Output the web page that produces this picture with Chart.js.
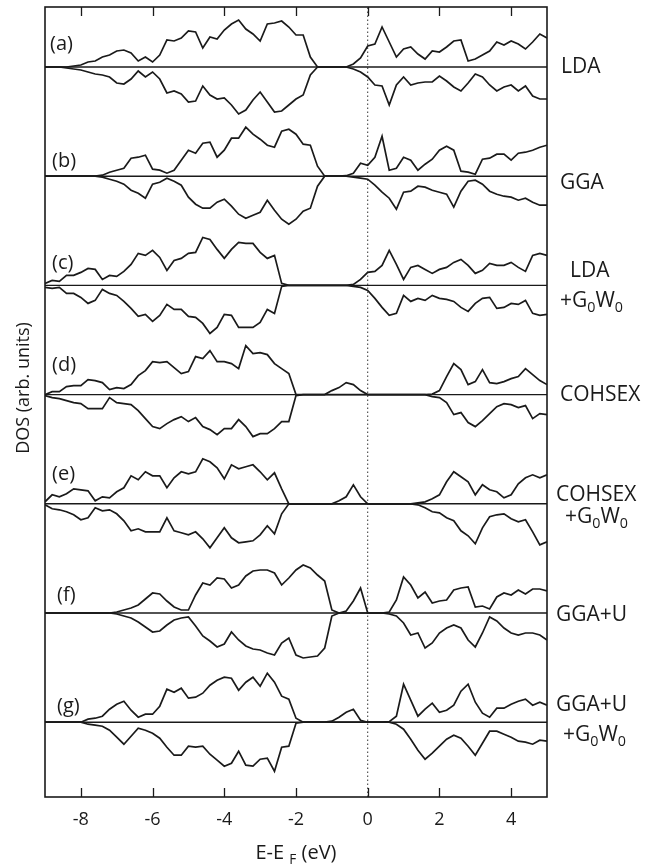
<!DOCTYPE html>
<html>
<head>
<meta charset="utf-8">
<script src="https://cdn.jsdelivr.net/npm/chart.js@4.4.0/dist/chart.umd.min.js"></script>
<style>
  html, body { margin: 0; padding: 0; background: #fff; }
  canvas { display: block; }
</style>
</head>
<body>
<canvas id="dosChart" width="647" height="867"></canvas>
<script>
// energy grid (eV, relative to E_F)
const energy = [
  -9, -8.8, -8.6, -8.4, -8.2, -8, -7.8, -7.6, -7.4, -7.2,
  -7, -6.8, -6.6, -6.4, -6.2, -6, -5.8, -5.6, -5.4, -5.2,
  -5, -4.8, -4.6, -4.4, -4.2, -4, -3.8, -3.6, -3.4, -3.2,
  -3, -2.8, -2.6, -2.4, -2.2, -2, -1.8, -1.6, -1.4, -1.2,
  -1, -0.8, -0.6, -0.4, -0.2, 0, 0.2, 0.4, 0.6, 0.8,
  1, 1.2, 1.4, 1.6, 1.8, 2, 2.2, 2.4, 2.6, 2.8,
  3, 3.2, 3.4, 3.6, 3.8, 4, 4.2, 4.4, 4.6, 4.8,
  5
];
const xTicks = [-8, -6, -4, -2, 0, 2, 4];

const panelTags = ['(a)', '(b)', '(c)', '(d)', '(e)', '(f)', '(g)'];
const methodLabels = [
  ['LDA'],
  ['GGA'],
  ['LDA', '+G_0W_0'],
  ['COHSEX'],
  ['COHSEX', '+G_0W_0'],
  ['GGA+U'],
  ['GGA+U', '+G_0W_0']
];

// DOS, spin up (drawn above the panel baseline) and spin down (below)
const ldaUp = [
  0, 0, 0, 0, 0.1, 0.2, 0.5, 0.6, 1.0, 1.2,
  1.6, 1.7, 1.4, 0.6, 1.0, 0.5, 1.2, 2.7, 2.6, 2.9,
  3.6, 3.5, 1.9, 3.0, 2.8, 3.7, 4.3, 4.7, 3.8, 3.3,
  2.6, 4.3, 4.4, 4.6, 4.0, 3.2, 3.2, 1.0, 0, 0,
  0, 0, 0, 0.3, 0.9, 2.1, 2.3, 4.0, 2.5, 1.0,
  1.8, 2.0, 1.3, 0.8, 1.6, 1.5, 2.0, 2.6, 2.7, 0.6,
  0.8, 1.2, 1.6, 2.5, 2.2, 2.6, 2.3, 1.8, 2.5, 3.3,
  2.9
];
const ldaDown = [
  0, 0, 0, 0.1, 0.2, 0.3, 0.5, 0.7, 0.8, 1.0,
  1.6, 1.7, 1.2, 0.4, 1.0, 0.5, 1.2, 2.6, 2.4, 2.7,
  3.5, 3.4, 1.9, 2.8, 3.2, 3.1, 3.8, 4.7, 4.3, 3.3,
  2.5, 3.5, 4.5, 4.4, 3.8, 3.2, 2.8, 0.8, 0, 0,
  0, 0, 0, 0.2, 0.5, 1.0, 1.8, 1.9, 3.8, 1.8,
  1.0, 1.8, 1.6, 1.5, 1.5, 0.9, 1.4, 2.0, 2.4, 1.6,
  0.7, 1.0, 1.8, 2.4, 2.0, 1.8, 2.4, 1.9, 2.9, 3.2,
  3.2
];
const ggaUp = [
  0, 0, 0, 0, 0, 0, 0, 0, 0.1, 0.4,
  0.6, 0.8, 1.8, 1.9, 2.1, 0.7, 0.6, 0.3, 0.6, 1.6,
  2.6, 2.3, 3.3, 3.4, 1.9, 2.6, 3.8, 3.8, 4.9, 4.2,
  3.7, 3.1, 2.9, 4.5, 4.7, 4.2, 3.2, 3.1, 1.0, 0,
  0, 0, 0.05, 0.3, 1.3, 1.1, 1.9, 4.0, 0.6, 0.8,
  1.9, 1.6, 0.6, 1.2, 1.7, 2.6, 3.0, 2.6, 0.5, 0.4,
  0.2, 1.7, 1.8, 2.2, 2.2, 1.6, 2.3, 2.4, 2.6, 2.9,
  3.1
];
const ggaDown = [
  0, 0, 0, 0, 0, 0, 0, 0, 0.1, 0.3,
  0.5, 0.8, 1.4, 1.7, 2.2, 0.8, 0.6, 0.2, 0.5, 0.9,
  2.1, 2.8, 3.2, 3.2, 2.6, 2.3, 3.0, 3.8, 4.2, 3.9,
  3.6, 2.4, 3.4, 4.3, 4.8, 4.3, 3.5, 3.2, 1.0, 0,
  0, 0, 0, 0.1, 0.2, 0.3, 0.9, 1.6, 2.2, 3.3,
  1.6, 1.5, 1.0, 1.1, 1.4, 1.6, 1.8, 3.1, 1.5, 0.5,
  0.4, 0.8, 1.5, 1.8, 2.0, 2.1, 2.4, 2.2, 2.6, 2.9,
  2.9
];
const ldaGwUp = [
  0.2, 0.5, 0.4, 1.0, 1.0, 1.3, 1.7, 1.6, 0.6, 1.0,
  0.9, 1.4, 2.1, 3.2, 3.0, 3.5, 2.8, 1.5, 2.5, 2.7,
  3.2, 3.3, 4.8, 4.6, 3.6, 2.7, 3.6, 4.3, 4.2, 4.2,
  3.3, 2.7, 3.0, 0.2, 0, 0, 0, 0, 0, 0,
  0, 0, 0, 0.1, 0.6, 1.3, 1.4, 2.0, 3.5, 2.1,
  0.6, 1.8, 2.0, 1.6, 1.2, 1.6, 1.8, 2.3, 2.6, 2.0,
  1.2, 1.5, 2.2, 2.0, 2.0, 2.3, 1.8, 1.4, 3.0, 3.2,
  3.0
];
const ldaGwDown = [
  0.2, 0.3, 0.2, 0.8, 0.8, 1.2, 1.8, 1.5, 0.4, 0.8,
  1.0, 1.6, 2.3, 3.1, 2.9, 3.6, 3.0, 1.9, 2.4, 2.4,
  3.1, 3.2, 3.8, 4.8, 4.2, 2.9, 3.0, 4.2, 4.2, 4.2,
  3.7, 2.4, 2.8, 0.1, 0, 0, 0, 0, 0, 0,
  0, 0, 0, 0.1, 0.2, 0.5, 1.3, 2.2, 3.0, 2.8,
  1.0, 1.6, 1.3, 1.5, 1.0, 1.3, 1.4, 1.6, 2.2, 2.6,
  1.8, 1.3, 1.2, 2.3, 2.2, 1.8, 1.9, 1.5, 2.8, 3.0,
  2.9
];
const cohsexUp = [
  0, 0.3, 0.3, 0.8, 0.9, 0.9, 1.5, 1.4, 1.2, 0.5,
  0.7, 0.6, 1.0, 1.9, 2.4, 3.3, 3.2, 3.3, 2.7, 2.1,
  2.3, 3.8, 3.6, 4.4, 3.3, 3.3, 3.1, 2.6, 4.9, 4.1,
  4.2, 4.0, 3.1, 2.6, 2.1, 0, 0, 0, 0, 0,
  0.4, 0.7, 1.2, 1.0, 0.4, 0, 0, 0, 0, 0,
  0, 0, 0, 0, 0.05, 0.4, 1.8, 3.1, 2.5, 1.0,
  1.3, 2.5, 1.2, 1.1, 1.3, 1.6, 1.8, 2.6, 2.0, 1.4,
  1.0
];
const cohsexDown = [
  0.1, 0.3, 0.4, 0.6, 0.8, 0.9, 1.4, 1.4, 1.4, 0.3,
  0.8, 0.9, 1.0, 1.6, 2.4, 3.2, 3.4, 2.9, 2.5, 2.2,
  2.7, 2.3, 3.2, 3.5, 4.0, 3.4, 3.4, 2.5, 3.2, 4.2,
  3.9, 3.9, 3.4, 2.7, 2.7, 0.1, 0, 0, 0, 0,
  0, 0, 0, 0, 0, 0, 0, 0, 0, 0,
  0, 0, 0, 0, 0.2, 0.3, 0.8, 2.0, 1.8, 2.8,
  3.2, 2.6, 1.9, 1.2, 0.9, 1.0, 1.3, 1.1, 2.4, 1.9,
  2.0
];
const cohsexGwUp = [
  0.2, 0.9, 0.7, 1.0, 1.5, 1.4, 1.3, 0.3, 0.7, 0.6,
  1.2, 1.6, 2.8, 2.4, 3.2, 2.8, 2.8, 1.6, 2.6, 3.2,
  3.0, 3.2, 4.5, 4.2, 3.6, 2.5, 3.9, 3.5, 3.7, 3.9,
  3.2, 2.4, 3.1, 1.5, 0, 0, 0, 0, 0, 0,
  0, 0.3, 0.7, 1.9, 0.7, 0, 0, 0, 0, 0,
  0, 0, 0.1, 0.2, 0.5, 0.9, 2.2, 3.2, 2.7, 2.2,
  0.9, 1.9, 1.4, 1.2, 0.6, 0.9, 2.0, 2.6, 2.9, 2.6,
  2.9
];
const cohsexGwDown = [
  0.1, 0.5, 0.6, 0.8, 1.1, 1.6, 1.4, 0.4, 0.7, 0.6,
  1.0, 1.7, 2.7, 2.5, 2.8, 2.8, 2.8, 1.4, 2.7, 2.9,
  3.1, 2.8, 3.5, 4.4, 3.4, 2.4, 3.4, 3.9, 3.8, 3.7,
  3.1, 2.2, 3.0, 1.0, 0, 0, 0, 0, 0, 0,
  0, 0, 0, 0, 0, 0, 0, 0, 0, 0,
  0, 0, 0.1, 0.4, 0.8, 0.9, 1.4, 1.7, 2.7, 3.2,
  4.0, 2.4, 1.3, 1.1, 1.0, 1.5, 1.8, 1.6, 2.8, 4.1,
  3.8
];
const ggauUp = [
  0, 0, 0, 0, 0, 0, 0, 0, 0, 0,
  0.1, 0.3, 0.5, 0.8, 1.4, 2.0, 1.9, 1.2, 0.6, 0.3,
  0.3, 1.8, 3.0, 2.8, 3.5, 3.4, 2.5, 2.8, 3.7, 4.2,
  4.3, 4.3, 4.0, 2.8, 3.5, 4.3, 4.8, 4.5, 3.8, 3.2,
  0.3, 0, 0.2, 1.2, 2.5, 0, 0, 0, 0.1, 1.3,
  3.6, 2.8, 1.5, 2.1, 1.0, 1.2, 1.3, 2.3, 2.5, 2.6,
  0.6, 0.7, 0.4, 1.6, 2.0, 1.8, 2.3, 1.9, 2.4, 2.4,
  2.2
];
const ggauDown = [
  0, 0, 0, 0, 0, 0, 0, 0, 0, 0,
  0.1, 0.3, 0.5, 0.9, 1.4, 1.9, 1.8, 1.2, 0.7, 0.5,
  0.4, 1.3, 2.3, 2.8, 3.4, 3.1, 1.9, 2.7, 3.3, 3.6,
  3.7, 4.0, 4.2, 3.0, 2.5, 4.2, 4.5, 4.4, 4.3, 3.5,
  0.3, 0, 0, 0, 0, 0, 0, 0, 0.1, 0.3,
  1.0, 2.2, 2.0, 3.5, 3.0, 2.0, 1.5, 1.2, 1.5, 2.7,
  3.4, 2.0, 0.4, 0.8, 1.5, 2.0, 2.2, 2.0, 2.0, 2.2,
  2.7
];
const ggauGwUp = [
  0, 0, 0, 0, 0, 0, 0.3, 0.4, 0.6, 1.3,
  1.8, 2.1, 1.2, 0.5, 0.8, 0.8, 1.6, 3.3, 3.0, 3.4,
  2.4, 2.5, 2.9, 3.7, 4.2, 4.5, 4.4, 3.2, 4.0, 4.5,
  3.6, 4.9, 4.0, 2.6, 2.3, 0.4, 0, 0, 0, 0,
  0.1, 0.5, 1.0, 1.3, 0.2, 0, 0, 0, 0.05, 0.6,
  3.8, 2.2, 0.6, 1.3, 1.9, 1.0, 1.2, 1.7, 3.1, 3.8,
  2.0, 0.9, 0.5, 1.4, 1.4, 1.8, 2.1, 2.3, 1.7, 2.0,
  1.7
];
const ggauGwDown = [
  0, 0, 0, 0, 0, 0, 0.2, 0.3, 0.4, 0.8,
  1.5, 2.2, 1.4, 0.6, 0.8, 1.1, 1.6, 2.5, 3.3, 3.3,
  2.4, 2.5, 2.4, 3.2, 3.8, 4.4, 4.1, 2.9, 4.3, 4.4,
  3.7, 3.6, 4.9, 2.5, 2.4, 0.1, 0, 0, 0, 0,
  0, 0, 0, 0, 0, 0, 0, 0, 0, 0.2,
  0.7, 1.7, 2.8, 3.7, 3.1, 2.4, 1.7, 1.3, 1.6, 2.4,
  3.3, 2.1, 0.9, 0.9, 1.2, 1.5, 1.9, 2.0, 2.2, 1.8,
  1.9
];

const panels = [
  { up: ldaUp, down: ldaDown },
  { up: ggaUp, down: ggaDown },
  { up: ldaGwUp, down: ldaGwDown },
  { up: cohsexUp, down: cohsexDown },
  { up: cohsexGwUp, down: cohsexGwDown },
  { up: ggauUp, down: ggauDown },
  { up: ggauGwUp, down: ggauGwDown }
];

// layout of the stacked panels (y axis units)
const Y_MAX = 79;
const TOP_BASE = 73.0;
const PANEL_STEP = 10.92;
const INK = '#1a1a1a';
const FONT = '"Open Sans", "DejaVu Sans", sans-serif';
const LABEL_SIZE = 21;
const TAG_SIZE = 20;

// label placement, pixels: tag x / offset of text centre from baseline, method label x / offsets
const tagPos = [[50, -24], [52, -16], [52, -24], [52, -31], [52, -31], [57, -19], [57, -17]];
const methodPos = [
  [[561, -2]],
  [[560, 5]],
  [[570, -16], [560, 14]],
  [[560, -1]],
  [[556, -10], [565, 12]],
  [[556, 0]],
  [[556, -19], [563, 11]]
];

const datasets = [];
panels.forEach((p, k) => {
  const base = TOP_BASE - k * PANEL_STEP;
  datasets.push({
    data: [{ x: -9, y: base }, { x: 5, y: base }],
    borderColor: INK, borderWidth: 1.4
  });
  datasets.push({
    data: energy.map((e, i) => ({ x: e, y: base + p.up[i] })),
    borderColor: INK, borderWidth: 1.7
  });
  datasets.push({
    data: energy.map((e, i) => ({ x: e, y: base - p.down[i] })),
    borderColor: INK, borderWidth: 1.7
  });
});
datasets.push({
  data: [{ x: 0, y: 0 }, { x: 0, y: Y_MAX }],
  borderColor: '#333', borderWidth: 1, borderDash: [1.5, 2.5]
});

function richWidth(ctx, text, size) {
  let w = 0;
  for (let i = 0; i < text.length; i++) {
    const sub = text[i] === '_';
    const ch = sub ? text[++i] : text[i];
    ctx.font = (sub ? size * 0.68 : size) + 'px ' + FONT;
    w += ctx.measureText(ch).width;
  }
  return w;
}

function drawRich(ctx, text, x, y, size) {
  let cx = x;
  for (let i = 0; i < text.length; i++) {
    const sub = text[i] === '_';
    const ch = sub ? text[++i] : text[i];
    ctx.font = (sub ? size * 0.68 : size) + 'px ' + FONT;
    ctx.fillText(ch, cx, sub ? y + size * 0.24 : y);
    cx += ctx.measureText(ch).width;
  }
}

const decorations = {
  id: 'decorations',
  afterDraw(chart) {
    const ctx = chart.ctx;
    const area = chart.chartArea;
    const xs = chart.scales.x;
    const ys = chart.scales.y;
    ctx.save();
    ctx.strokeStyle = INK;
    ctx.lineWidth = 1.6;
    ctx.strokeRect(area.left, area.top, area.right - area.left, area.bottom - area.top);
    ctx.lineWidth = 1.3;
    xTicks.forEach(v => {
      const px = Math.round(xs.getPixelForValue(v)) + 0.5;
      ctx.beginPath();
      ctx.moveTo(px, area.top); ctx.lineTo(px, area.top + 9);
      ctx.moveTo(px, area.bottom); ctx.lineTo(px, area.bottom - 9);
      ctx.stroke();
    });

    ctx.fillStyle = INK;
    ctx.textBaseline = 'alphabetic';
    ctx.textAlign = 'left';

    panels.forEach((p, k) => {
      const by = ys.getPixelForValue(TOP_BASE - k * PANEL_STEP);
      ctx.font = TAG_SIZE + 'px ' + FONT;
      ctx.fillText(panelTags[k], tagPos[k][0], by + tagPos[k][1] + TAG_SIZE * 0.36);
      methodLabels[k].forEach((txt, j) => {
        const pos = methodPos[k][j];
        drawRich(ctx, txt, pos[0], by + pos[1] + LABEL_SIZE * 0.36, LABEL_SIZE);
      });
    });

    // x axis title with subscript F
    const xt = 'E-E _F (eV)';
    const w = richWidth(ctx, xt, 20);
    drawRich(ctx, xt, (area.left + area.right) / 2 - w / 2, 859, 20);

    // y axis title
    ctx.translate(23, 388);
    ctx.rotate(-Math.PI / 2);
    ctx.textAlign = 'center';
    ctx.font = '18px ' + FONT;
    ctx.fillText('DOS (arb. units)', 0, 6);
    ctx.restore();
  }
};

new Chart(document.getElementById('dosChart').getContext('2d'), {
  type: 'line',
  data: { datasets: datasets },
  options: {
    responsive: false,
    animation: false,
    devicePixelRatio: 1,
    layout: { padding: { top: 7, right: 100, left: 0, bottom: 0 } },
    elements: { point: { radius: 0 }, line: { tension: 0, fill: false } },
    plugins: { legend: { display: false }, tooltip: { enabled: false } },
    scales: {
      x: {
        type: 'linear',
        min: -9,
        max: 5,
        afterBuildTicks: s => { s.ticks = xTicks.map(v => ({ value: v })); },
        afterFit: s => { s.height = 70; },
        grid: { display: false, drawTicks: false },
        border: { display: false },
        ticks: { padding: 12, color: INK, font: { family: FONT, size: 18 } }
      },
      y: {
        type: 'linear',
        min: 0,
        max: Y_MAX,
        afterFit: s => { s.width = 45; },
        grid: { display: false, drawTicks: false },
        border: { display: false },
        ticks: { display: false }
      }
    }
  },
  plugins: [decorations]
});
</script>
</body>
</html>
